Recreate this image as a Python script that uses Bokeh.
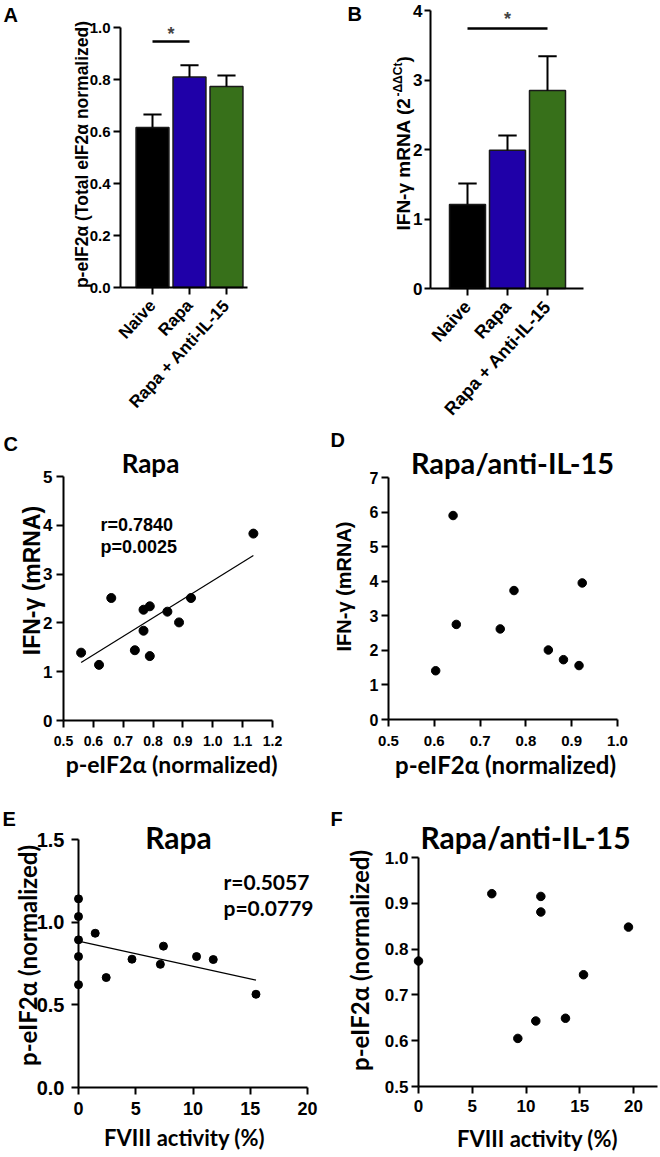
import numpy as np
from math import pi
from bokeh.plotting import figure
from bokeh.layouts import column, row
from bokeh.models import Range1d, FixedTicker, PrintfTickFormatter, Label
from bokeh.embed import file_html
from bokeh.resources import INLINE

# ---------------- data ----------------
groups = ["Naive", "Rapa", "Rapa + Anti-IL-15"]
bar_colors = ["#000000", "#1f00a8", "#37701a"]

# Panel A: p-eIF2a (Total eIF2a normalized), mean and mean+SEM
a_mean = [0.615, 0.810, 0.773]
a_upper = [0.665, 0.855, 0.815]
a_sig_from, a_sig_to, a_sig_y = 0, 1, 0.946

# Panel B: IFN-g mRNA (2^-ddCt)
b_mean = [1.21, 1.99, 2.85]
b_upper = [1.51, 2.20, 3.34]
b_sig_from, b_sig_to, b_sig_y = 0, 2, 3.74

# Panel C: Rapa, p-eIF2a vs IFN-g
c_x = [0.559, 0.619, 0.660, 0.739, 0.768, 0.768, 0.789, 0.789, 0.848, 0.887, 0.927, 1.136]
c_y = [1.39, 1.14, 2.51, 1.44, 1.84, 2.27, 2.34, 1.32, 2.23, 2.01, 2.51, 3.83]

# Panel D: Rapa/anti-IL-15, p-eIF2a vs IFN-g
d_x = [0.603, 0.641, 0.648, 0.744, 0.774, 0.849, 0.882, 0.916, 0.923]
d_y = [1.41, 5.90, 2.75, 2.62, 3.73, 2.01, 1.73, 1.56, 3.95]

# Panel E: Rapa, FVIII activity vs p-eIF2a
e_x = [0, 0, 0, 0, 0, 1.46, 2.42, 4.67, 7.15, 7.42, 10.31, 11.77, 15.5]
e_y = [1.141, 1.034, 0.893, 0.792, 0.622, 0.933, 0.665, 0.776, 0.745, 0.855, 0.792, 0.774, 0.564]

# Panel F: Rapa/anti-IL-15, FVIII activity vs p-eIF2a
f_x = [0, 6.82, 9.24, 10.91, 11.38, 11.38, 13.67, 15.35, 19.53]
f_y = [0.774, 0.921, 0.605, 0.643, 0.915, 0.881, 0.649, 0.744, 0.848]

# tick values
a_yticks = [0.0, 0.2, 0.4, 0.6, 0.8, 1.0]
b_yticks = [0, 1, 2, 3, 4]
c_xticks = [0.5, 0.6, 0.7, 0.8, 0.9, 1.0, 1.1, 1.2]
c_yticks = [0, 1, 2, 3, 4, 5]
d_xticks = [0.5, 0.6, 0.7, 0.8, 0.9, 1.0]
d_yticks = [0, 1, 2, 3, 4, 5, 6, 7]
e_xticks = [0, 5, 10, 15, 20]
e_yticks = [0.0, 0.5, 1.0, 1.5]
f_xticks = [0, 5, 10, 15, 20]
f_yticks = [0.5, 0.6, 0.7, 0.8, 0.9, 1.0]

ARIAL = "Liberation Sans"
LATO = "Lato"
BOX = {}


def make_fig(box, frame, xd, yd):
    ox, oy, w, h = box
    L, R, T, B = frame
    x0, x1 = xd
    y0, y1 = yd
    sx = (R - L) / (x1 - x0)
    sy = (B - T) / (y1 - y0)
    xr = Range1d(x0 - (L - ox) / sx, x1 + (ox + w - R) / sx)
    yr = Range1d(y0 - (oy + h - B) / sy, y1 + (T - oy) / sy)
    p = figure(width=w, height=h, x_range=xr, y_range=yr, min_border=0,
               toolbar_location=None, output_backend="svg", tools="")
    p.grid.visible = False
    p.outline_line_color = None
    p.xaxis.fixed_location = y0
    p.xaxis.bounds = (x0, x1)
    p.yaxis.fixed_location = x0
    p.yaxis.bounds = (y0, y1)
    for ax in p.axis:
        ax.axis_line_width = 2
        ax.axis_line_color = "black"
        ax.major_tick_line_width = 2
        ax.major_tick_line_color = "black"
        ax.major_tick_out = 7
        ax.major_tick_in = 0
        ax.minor_tick_line_color = None
        ax.major_label_text_font = ARIAL
        ax.major_label_text_font_style = "bold"
        ax.major_label_text_color = "black"
    BOX[id(p)] = box
    return p


def lab(p, px, py, text, size, font=ARIAL, align="left", baseline="alphabetic", angle=0):
    ox, oy, w, h = BOX[id(p)]
    if baseline == "alphabetic":
        py = py - 0.35 * size
    p.add_layout(Label(x=px - ox, y=oy + h - py, x_units="screen", y_units="screen", text=text,
                       text_font=font, text_font_style="bold", text_font_size=f"{size}px",
                       text_color="black", text_align=align, text_baseline=baseline,
                       angle=angle))


def bar_panel(p, means, uppers, barw, cap):
    xs = list(range(len(means)))
    p.vbar(x=xs, top=means, bottom=0, width=barw, fill_color=bar_colors,
           line_color="#1a1a1a", line_width=1.5)
    p.segment(x0=xs, y0=means, x1=xs, y1=uppers, line_color="black", line_width=2)
    p.segment(x0=[x - cap for x in xs], y0=uppers, x1=[x + cap for x in xs], y1=uppers,
              line_color="black", line_width=2)
    p.xaxis.ticker = FixedTicker(ticks=xs)
    p.xaxis.major_label_overrides = {i: g for i, g in enumerate(groups)}
    p.xaxis.major_label_orientation = 0.83


def star(p, x0, x1, y, ystar, size):
    p.segment(x0=[x0], x1=[x1], y0=[y], y1=[y], line_color="black", line_width=2.5)
    p.add_layout(Label(x=(x0 + x1) / 2, y=ystar, text="*", text_font=ARIAL,
                       text_font_style="bold", text_font_size=f"{size}px", text_align="center",
                       text_baseline="middle"))


# ---------------- Panel A ----------------
pA = make_fig((0, 0, 330, 428), (120, 247, 27, 287), (-0.865, 2.568), (0, 1.0))
bar_panel(pA, a_mean, a_upper, 0.89, 0.245)
star(pA, a_sig_from, a_sig_to, a_sig_y, 0.975, 18)
pA.yaxis.ticker = FixedTicker(ticks=a_yticks)
pA.yaxis.formatter = PrintfTickFormatter(format="%.1f")
pA.yaxis.major_label_text_font_size = "15px"
pA.yaxis.major_label_standoff = 3
pA.xaxis.major_label_text_font_size = "17px"
pA.xaxis.major_label_standoff = 8
lab(pA, 3, 21, "A", 20)
lab(pA, 81, 154, "p-eIF2α (Total eIF2α normalized)", 17.5, align="center", baseline="middle", angle=pi / 2)

# ---------------- Panel B ----------------
pB = make_fig((330, 0, 330, 428), (430, 583, 10, 288), (-0.925, 2.9), (0, 4))
bar_panel(pB, b_mean, b_upper, 0.9, 0.23)
star(pB, b_sig_from, b_sig_to, b_sig_y, 3.88, 18)
pB.yaxis.ticker = FixedTicker(ticks=b_yticks)
pB.yaxis.major_label_text_font_size = "17px"
pB.yaxis.major_label_standoff = 2
pB.yaxis.major_tick_out = 6
pB.xaxis.major_label_text_font_size = "18px"
pB.xaxis.major_label_standoff = 8
lab(pB, 347, 20, "B", 20)
lab(pB, 403, 97, "IFN-γ mRNA (2", 19, align="right", baseline="middle", angle=pi / 2)
lab(pB, 397, 96, "-ΔΔCt", 12, align="left", baseline="middle", angle=pi / 2)
lab(pB, 403, 62, ")", 19, align="left", baseline="middle", angle=pi / 2)

# ---------------- Panel C ----------------
pC = make_fig((0, 428, 330, 360), (63, 272, 476, 720), (0.5, 1.2), (0, 5))
cf = np.polyfit(c_x, c_y, 1)
cxl = np.array([min(c_x), max(c_x)])
pC.line(cxl, np.polyval(cf, cxl), line_color="black", line_width=1.2)
pC.scatter(c_x, c_y, size=9, color="black")
pC.xaxis.ticker = FixedTicker(ticks=c_xticks)
pC.xaxis.formatter = PrintfTickFormatter(format="%.1f")
pC.yaxis.ticker = FixedTicker(ticks=c_yticks)
pC.xaxis.major_label_text_font_size = "14px"
pC.yaxis.major_label_text_font_size = "17px"
pC.xaxis.major_label_standoff = 8
pC.yaxis.major_label_standoff = 4
lab(pC, 3, 450, "C", 20)
lab(pC, 150, 472, "Rapa", 26, font=LATO, align="center")
lab(pC, 100, 531, "r=0.7840", 18)
lab(pC, 100, 553, "p=0.0025", 18)
lab(pC, 31, 580, "IFN-γ (mRNA)", 23, align="center", baseline="middle", angle=pi / 2)
lab(pC, 171, 772, "p-eIF2α (normalized)", 23, font=LATO, align="center")

# ---------------- Panel D ----------------
pD = make_fig((330, 428, 330, 360), (388, 617, 477, 719), (0.5, 1.0), (0, 7))
pD.scatter(d_x, d_y, size=8.5, color="black")
pD.xaxis.ticker = FixedTicker(ticks=d_xticks)
pD.xaxis.formatter = PrintfTickFormatter(format="%.1f")
pD.yaxis.ticker = FixedTicker(ticks=d_yticks)
pD.xaxis.major_label_text_font_size = "15px"
pD.yaxis.major_label_text_font_size = "16px"
pD.xaxis.major_label_standoff = 9
pD.yaxis.major_label_standoff = 3
lab(pD, 330, 446, "D", 20)
lab(pD, 512, 472, "Rapa/anti-IL-15", 29, font=LATO, align="center")
lab(pD, 343, 586, "IFN-γ (mRNA)", 20, align="center", baseline="middle", angle=pi / 2)
lab(pD, 505, 772, "p-eIF2α (normalized)", 24, font=LATO, align="center")

# ---------------- Panel E ----------------
pE = make_fig((0, 788, 330, 368), (78, 307, 839, 1087), (0, 20), (0, 1.5))
ef = np.polyfit(e_x, e_y, 1)
exl = np.array([min(e_x), max(e_x)])
pE.line(exl, np.polyval(ef, exl), line_color="black", line_width=1.2)
pE.scatter(e_x, e_y, size=8, color="black")
pE.xaxis.ticker = FixedTicker(ticks=e_xticks)
pE.yaxis.ticker = FixedTicker(ticks=e_yticks)
pE.yaxis.formatter = PrintfTickFormatter(format="%.1f")
pE.xaxis.major_label_text_font_size = "18px"
pE.yaxis.major_label_text_font_size = "20px"
pE.xaxis.major_label_standoff = 7
pE.yaxis.major_label_standoff = 7
lab(pE, 2, 825, "E", 20)
lab(pE, 178, 847, "Rapa", 30, font=LATO, align="center")
lab(pE, 223, 888, "r=0.5057", 21, font=LATO)
lab(pE, 223, 914, "p=0.0779", 21, font=LATO)
lab(pE, 27, 955, "p-eIF2α (normalized)", 24, font=LATO, align="center", baseline="middle", angle=pi / 2)
lab(pE, 184, 1145, "FVIII activity (%)", 22, font=LATO, align="center")

# ---------------- Panel F ----------------
pF = make_fig((330, 788, 330, 368), (418, 657, 857, 1086), (0, 22.23), (0.5, 1.0))
pF.scatter(f_x, f_y, size=8.5, color="black")
pF.xaxis.ticker = FixedTicker(ticks=f_xticks)
pF.yaxis.ticker = FixedTicker(ticks=f_yticks)
pF.yaxis.formatter = PrintfTickFormatter(format="%.1f")
pF.xaxis.major_label_text_font_size = "17px"
pF.yaxis.major_label_text_font_size = "17px"
pF.xaxis.major_label_standoff = 6
pF.yaxis.major_label_standoff = 3
lab(pF, 330, 825, "F", 20)
lab(pF, 525, 847, "Rapa/anti-IL-15", 30, font=LATO, align="center")
lab(pF, 359, 960, "p-eIF2α (normalized)", 24, font=LATO, align="center", baseline="middle", angle=pi / 2)
lab(pF, 537, 1146, "FVIII activity (%)", 22, font=LATO, align="center")

layout = column(row(pA, pB), row(pC, pD), row(pE, pF))
open("out.html", "w").write(file_html(layout, INLINE))
